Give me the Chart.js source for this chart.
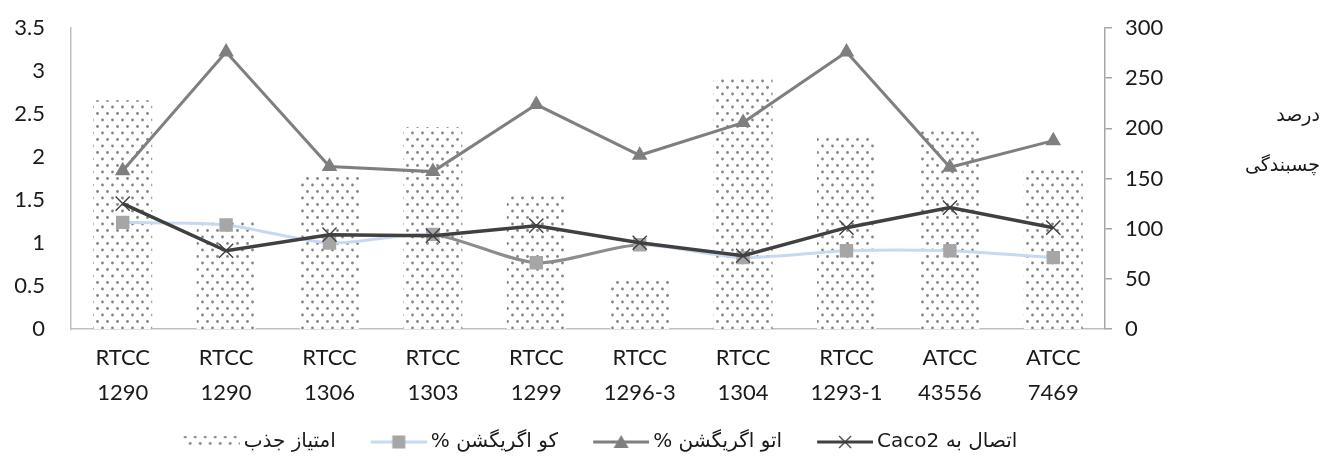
<!DOCTYPE html>
<html><head><meta charset="utf-8">
<script src="https://cdn.jsdelivr.net/npm/chart.js@4.4.1/dist/chart.umd.min.js"></script>
<style>html,body{margin:0;padding:0;background:#fff;overflow:hidden;}</style>
</head><body>
<canvas id="c" width="1323" height="462" style="display:block;width:1323px;height:462px"></canvas>
<script>
const categories = [["RTCC","1290"],["RTCC","1290"],["RTCC","1306"],["RTCC","1303"],["RTCC","1299"],["RTCC","1296-3"],["RTCC","1304"],["RTCC","1293-1"],["ATCC","43556"],["ATCC","7469"]];
const absorptionScore = [2.66,1.28,1.79,2.35,1.55,0.58,2.94,2.22,2.31,1.86];
const coAggregation   = [1.24,1.21,1.00,1.10,0.77,0.98,0.83,0.91,0.91,0.83];
const autoAggregation = [1.84,3.22,1.89,1.83,2.61,2.02,2.40,3.22,1.88,2.19];
const caco2Adhesion   = [125,78,94,93,103,86,73,101,121,101];
const leftTicks  = [0,0.5,1,1.5,2,2.5,3,3.5];
const leftTickLabels = ["0","0.5","1","1.5","2","2.5","3","3.5"];
const rightTicks = [0,50,100,150,200,250,300];
const rightTickLabels = ["0","50","100","150","200","250","300"];
const seriesNames = ["امتیاز جذب","کو اگریگشن %","اتو اگریگشن %","اتصال به Caco2"];
const rightAxisTitle = ["درصد","چسبندگی"];

const FONT = 'Lato, "DejaVu Sans", sans-serif';
const AR_FONT = '"DejaVu Sans", sans-serif';

// dotted pattern
function makePattern(){
  const t = document.createElement('canvas'); t.width = 10; t.height = 13;
  const g = t.getContext('2d');
  g.fillStyle = '#fff'; g.fillRect(0,0,10,13);
  g.fillStyle = '#858585';
  [[2.5,3],[7.5,9.5]].forEach(([x,y])=>{g.beginPath();g.arc(x,y,1.4,0,Math.PI*2);g.fill();});
  return document.getElementById('c').getContext('2d').createPattern(t,'repeat');
}
const dotPattern = makePattern();

// legend symbols: canvas 87 wide, symbol drawn at x 31..87
function legendIcon(kind){
  const cv = document.createElement('canvas'); cv.width = 87; cv.height = 16;
  const g = cv.getContext('2d');
  const x0 = 31, w = 56, cx = x0 + w/2;
  if(kind==='bar'){ g.fillStyle = dotPattern; g.fillRect(x0,2,w,12); return cv; }
  const col = {sq:'#c6d9f1', tri:'#7f7f7f', x:'#404040'}[kind];
  g.strokeStyle = col; g.lineWidth = 3;
  g.beginPath(); g.moveTo(x0,8); g.lineTo(x0+w,8); g.stroke();
  if(kind==='sq'){ g.fillStyle='#a6a6a6'; g.fillRect(cx-6.5,1.5,13,13); }
  if(kind==='tri'){ g.fillStyle='#7f7f7f'; g.beginPath(); g.moveTo(cx,1); g.lineTo(cx+7.5,14); g.lineTo(cx-7.5,14); g.closePath(); g.fill(); }
  if(kind==='x'){ g.strokeStyle='#404040'; g.lineWidth=1.3; g.beginPath(); g.moveTo(cx-6,2); g.lineTo(cx+6,14); g.moveTo(cx+6,2); g.lineTo(cx-6,14); g.stroke(); }
  return cv;
}
const icons = [legendIcon('bar'), legendIcon('sq'), legendIcon('tri'), legendIcon('x')];

const rightTitlePlugin = {
  id:'rightTitle',
  afterDraw(chart){
    const ctx = chart.ctx, a = chart.chartArea;
    ctx.save();
    ctx.font = '19px ' + AR_FONT; ctx.fillStyle = '#1a1a1a';
    ctx.direction = 'rtl'; ctx.textAlign = 'right'; ctx.textBaseline = 'middle';
    ctx.fillText(rightAxisTitle[0], chart.width - 3, a.top + 88);
    ctx.fillText(rightAxisTitle[1], chart.width - 3, a.top + 138);
    ctx.restore();
  }
};

new Chart(document.getElementById('c'), {
  data: {
    labels: categories,
    datasets: [
      { type:'bar', label: seriesNames[0], data: absorptionScore, yAxisID:'y', order:3,
        backgroundColor: dotPattern, borderWidth:0, barPercentage:0.57, categoryPercentage:1 },
      { type:'line', label: seriesNames[1], data: coAggregation, yAxisID:'y', order:2,
        borderColor:'#c6d9f1', borderWidth:3, tension:0.25,
        segment:{ borderColor: c => (c.p0DataIndex===3||c.p0DataIndex===4) ? '#8c8c8c' : '#c6d9f1' },
        pointStyle:'rect', pointRadius:9.5, pointBackgroundColor:'#a6a6a6', pointBorderColor:'#a6a6a6', pointBorderWidth:0 },
      { type:'line', label: seriesNames[2], data: autoAggregation, yAxisID:'y', order:1,
        borderColor:'#7f7f7f', borderWidth:3, tension:0,
        pointStyle:'triangle', pointRadius:9, pointBackgroundColor:'#7f7f7f', pointBorderColor:'#7f7f7f', pointBorderWidth:0 },
      { type:'line', label: seriesNames[3], data: caco2Adhesion, yAxisID:'y1', order:0,
        borderColor:'#404040', borderWidth:3.5, tension:0,
        pointStyle:'crossRot', pointRadius:10, pointBorderColor:'#404040', pointBorderWidth:1.4 }
    ]
  },
  options: {
    responsive:false, animation:false, devicePixelRatio:1,
    layout:{ padding:{ top:28, left:0, right:0, bottom:0 } },
    plugins:{
      tooltip:{enabled:false},
      legend:{
        position:'bottom', fullSize:false, align:'center', textDirection:'rtl',
        labels:{
          usePointStyle:true, pointStyleWidth:75, boxHeight:16, padding:10,
          font:{ size:20, family: AR_FONT }, color:'#1a1a1a',
          generateLabels: chart => seriesNames.map((n,i)=>({
            text:n, datasetIndex:i, pointStyle:icons[i], hidden:false,
            fillStyle:'transparent', strokeStyle:'transparent', lineWidth:0, fontColor:'#1a1a1a'
          }))
        }
      }
    },
    scales:{
      x:{
        grid:{display:false, drawTicks:false},
        border:{display:true, color:'#bfbfbf', width:1.5},
        ticks:{ font:{size:22, family:FONT, lineHeight:1.6}, color:'#1a1a1a', padding:11, maxRotation:0, autoSkip:false },
        afterFit: s => { s.height = 93; }
      },
      y:{
        position:'left', min:0, max:3.5,
        afterBuildTicks: s => { s.ticks = leftTicks.map(v=>({value:v})); },
        grid:{display:false, drawTicks:true, tickLength:26},
        border:{display:true, color:'#bfbfbf', width:1.5},
        ticks:{ font:{size:22, family:FONT}, color:'#1a1a1a', padding:0,
          callback: (v,i) => leftTickLabels[i] },
        afterFit: s => { s.width = 71; }
      },
      y1:{
        position:'right', min:0, max:300,
        afterBuildTicks: s => { s.ticks = rightTicks.map(v=>({value:v})); },
        grid:{display:true, drawOnChartArea:false, drawTicks:true, tickLength:7, color:'#a6a6a6', lineWidth:1.5},
        border:{display:true, color:'#a6a6a6', width:1.5},
        ticks:{ font:{size:22, family:FONT}, color:'#1a1a1a', padding:13,
          callback: (v,i) => rightTickLabels[i] },
        afterFit: s => { s.width = 218; }
      }
    }
  },
  plugins:[rightTitlePlugin]
});
</script>
</body></html>
